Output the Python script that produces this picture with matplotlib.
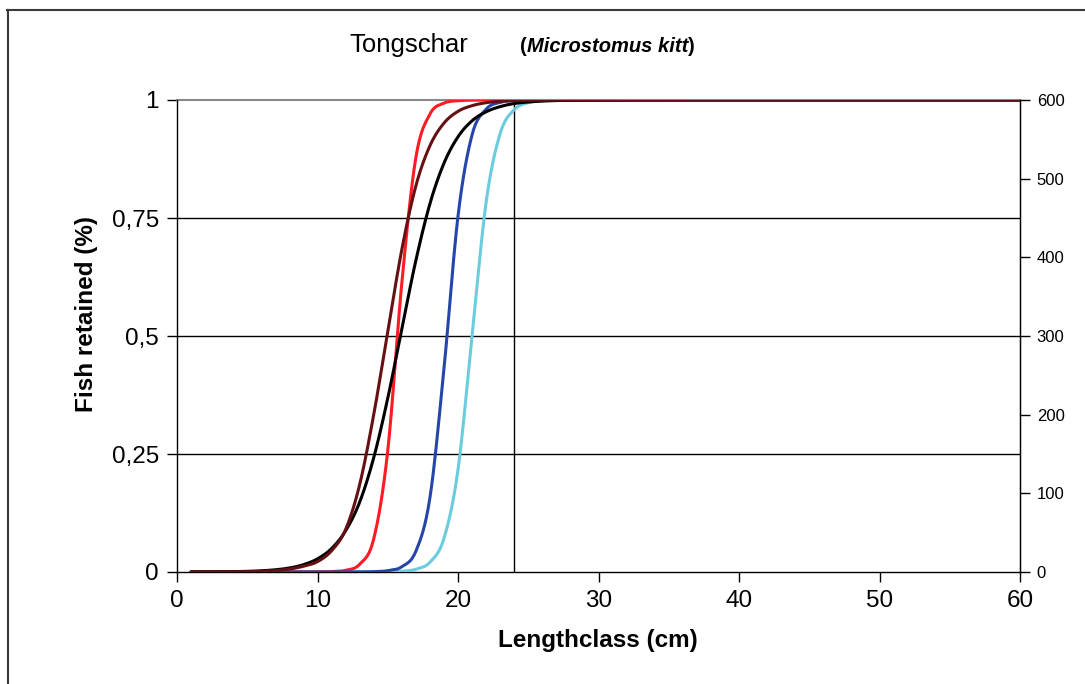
import numpy as np
import matplotlib.pyplot as plt
from matplotlib.lines import Line2D

plt.rcParams['font.family'] = ['Liberation Sans', 'DejaVu Sans']

# length classes (cm)
lengths = np.arange(1, 61)

# retention per length class for each codend
ret_red = [0, 0, 0, 0, 0, 0, 0, 0, 0.00004, 0.0002,
           0.0008, 0.0036, 0.0164, 0.070, 0.257, 0.612, 0.878, 0.970, 0.9933, 0.9985,
           0.9997, 0.9999, 1, 1, 1, 1, 1, 1, 1, 1,
           1, 1, 1, 1, 1, 1, 1, 1, 1, 1,
           1, 1, 1, 1, 1, 1, 1, 1, 1, 1,
           1, 1, 1, 1, 1, 1, 1, 1, 1, 1]
ret_maroon = [0.00004, 0.00008, 0.00016, 0.00033, 0.0007, 0.0014, 0.003, 0.0061, 0.0122, 0.022,
              0.045, 0.09, 0.185, 0.333, 0.509, 0.683, 0.818, 0.903, 0.951, 0.976,
              0.988, 0.9943, 0.9972, 0.9987, 0.9994, 0.9997, 0.9999, 1, 1, 1,
              1, 1, 1, 1, 1, 1, 1, 1, 1, 1,
              1, 1, 1, 1, 1, 1, 1, 1, 1, 1,
              1, 1, 1, 1, 1, 1, 1, 1, 1, 1]
ret_black = [0.00013, 0.00023, 0.00042, 0.00078, 0.0014, 0.0026, 0.0047, 0.0085, 0.0155, 0.0279,
             0.0497, 0.0873, 0.148, 0.242, 0.368, 0.515, 0.660, 0.780, 0.866, 0.922,
             0.956, 0.975, 0.986, 0.9925, 0.9958, 0.9977, 0.9988, 0.9993, 0.9996, 0.9998,
             0.9999, 0.9999, 1, 1, 1, 1, 1, 1, 1, 1,
             1, 1, 1, 1, 1, 1, 1, 1, 1, 1,
             1, 1, 1, 1, 1, 1, 1, 1, 1, 1]
ret_blue = [0, 0, 0, 0, 0, 0, 0, 0, 0, 0,
            0, 0.00004, 0.00017, 0.0007, 0.0028, 0.0112, 0.0439, 0.157, 0.430, 0.754,
            0.926, 0.9805, 0.9951, 0.9988, 0.9997, 0.9999, 1, 1, 1, 1,
            1, 1, 1, 1, 1, 1, 1, 1, 1, 1,
            1, 1, 1, 1, 1, 1, 1, 1, 1, 1,
            1, 1, 1, 1, 1, 1, 1, 1, 1, 1]
ret_cyan = [0, 0, 0, 0, 0, 0, 0, 0, 0, 0,
            0, 0, 0.00003, 0.00012, 0.00045, 0.0016, 0.0058, 0.0206, 0.0711, 0.217,
            0.5, 0.783, 0.929, 0.9794, 0.9942, 0.9984, 0.9996, 0.9999, 1, 1,
            1, 1, 1, 1, 1, 1, 1, 1, 1, 1,
            1, 1, 1, 1, 1, 1, 1, 1, 1, 1,
            1, 1, 1, 1, 1, 1, 1, 1, 1, 1]

yticks = [0, 0.25, 0.5, 0.75, 1]
ytick_labels = ['0', '0,25', '0,5', '0,75', '1']
xticks = [0, 10, 20, 30, 40, 50, 60]
right_ticks = [0, 100, 200, 300, 400, 500, 600]
mark_length = 24


def smooth(x, y, n=16):
    # bezier smoothing of a polyline, like a spreadsheet "smoothed line"
    x = np.asarray(x, float)
    y = np.asarray(y, float)
    px = np.concatenate([[x[0]], x, [x[-1]]])
    py = np.concatenate([[y[0]], y, [y[-1]]])
    t = np.linspace(0, 1, n, endpoint=False)[:, None]
    out = []
    for p in (px, py):
        p0, p1, p2, p3 = p[:-3], p[1:-2], p[2:-1], p[3:]
        c1 = p1 + (p2 - p0) / 6
        c2 = p2 - (p3 - p1) / 6
        b = ((1 - t) ** 3 * p1 + 3 * (1 - t) ** 2 * t * c1
             + 3 * (1 - t) * t ** 2 * c2 + t ** 3 * p2)
        out.append(np.append(b.T.ravel(), p[-2]))
    return out


fig = plt.figure(figsize=(10.85, 6.84), dpi=100)
ax = fig.add_axes([177 / 1085, 1 - 572 / 684, 843 / 1085, 472 / 684])

for yv in yticks[1:-1]:
    ax.axhline(yv, color='black', lw=1, zorder=1)
ax.axvline(mark_length, color='black', lw=1, zorder=1)

series = [(ret_cyan, '#6ACCDC'), (ret_red, '#FF1A24'), (ret_blue, '#2546A8'),
          (ret_black, '#000000'), (ret_maroon, '#661013')]
for vals, col in series:
    sx, sy = smooth(lengths, vals)
    ax.plot(sx, sy, color=col, lw=2.2, zorder=3, solid_capstyle='round')

ax.set_xlim(0, 60)
ax.set_ylim(0, 1)
ax.set_xticks(xticks)
ax.set_yticks(yticks)
ax.set_yticklabels(ytick_labels)
ax.tick_params(axis='both', direction='out', length=7, width=1, labelsize=17.5, color='black')
ax.tick_params(axis='x', pad=6)
ax.tick_params(axis='y', pad=6)
for s in ['left', 'bottom', 'right']:
    ax.spines[s].set_color('black')
    ax.spines[s].set_linewidth(1)
ax.spines['top'].set_color('#888888')
ax.spines['top'].set_linewidth(1.5)
ax.spines['top'].set_zorder(2)

ax2 = ax.twinx()
ax2.set_ylim(0, 600)
ax2.set_yticks(right_ticks)
ax2.tick_params(axis='y', direction='out', length=7, width=1, labelsize=12, pad=5)
for s in ['left', 'bottom', 'top']:
    ax2.spines[s].set_visible(False)
ax2.spines['right'].set_color('black')

fig.text(598 / 1085, 1 - 640 / 684, 'Lengthclass (cm)', fontsize=17.5, fontweight='bold',
         ha='center', va='center')
fig.text(87 / 1085, 1 - 314 / 684, 'Fish retained (%)', fontsize=17.5, fontweight='bold',
         ha='center', va='center', rotation=90)

# title: common name plus bold scientific name in brackets
fig.text(349 / 1085, 1 - 52 / 684, 'Tongschar', fontsize=18.5, va='baseline')
renderer = fig.canvas.get_renderer()
xpos = 520 / 1085
for part, style in [('(', 'normal'), ('Microstomus kitt', 'italic'), (')', 'normal')]:
    t = fig.text(xpos, 1 - 52 / 684, part, fontsize=14.5, fontweight='bold',
                 fontstyle=style, va='baseline')
    bb = t.get_window_extent(renderer)
    xpos = bb.x1 / fig.bbox.width

# outer frame along the left and top
fig.add_artist(Line2D([7.5 / 1085, 7.5 / 1085], [0, 1 - 10 / 684], color='#3a3a3a', lw=1.5))
fig.add_artist(Line2D([7 / 1085, 1], [1 - 10 / 684, 1 - 10 / 684], color='#3a3a3a', lw=1.5))

fig.savefig('out.png', dpi=100)
